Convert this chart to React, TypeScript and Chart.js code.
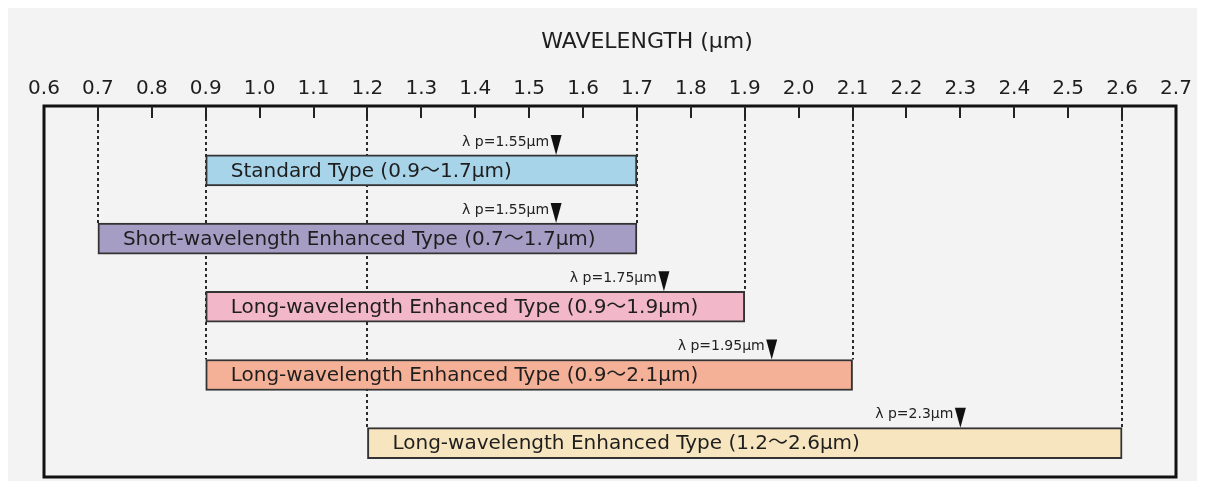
import React, { useEffect, useRef } from "react";
import { Chart, registerables } from "chart.js";

Chart.register(...registerables);

const TYPE_LABELS = [
  "Standard Type (0.9〜1.7μm)",
  "Short-wavelength Enhanced Type (0.7〜1.7μm)",
  "Long-wavelength Enhanced Type (0.9〜1.9μm)",
  "Long-wavelength Enhanced Type (0.9〜2.1μm)",
  "Long-wavelength Enhanced Type (1.2〜2.6μm)",
];
const RANGE_START = [0.9, 0.7, 0.9, 0.9, 1.2];
const RANGE_END = [1.7, 1.7, 1.9, 2.1, 2.6];
const PEAK = [1.55, 1.55, 1.75, 1.95, 2.3];
const PEAK_LABELS = ["λ p=1.55μm", "λ p=1.55μm", "λ p=1.75μm", "λ p=1.95μm", "λ p=2.3μm"];
const BAR_COLORS = ["#a8d4ea", "#a69dc4", "#f2b7c9", "#f5b197", "#f6e5bf"];
const X_TICKS = [
  0.6, 0.7, 0.8, 0.9, 1.0, 1.1, 1.2, 1.3, 1.4, 1.5, 1.6, 1.7, 1.8, 1.9, 2.0,
  2.1, 2.2, 2.3, 2.4, 2.5, 2.6, 2.7,
];
const AXIS_TITLE = "WAVELENGTH (μm)";

const FONT = "'DejaVu Sans', 'Noto Sans CJK JP', sans-serif";
const BAR_THICKNESS = 31;

const overlayPlugin = {
  id: "overlay",
  beforeDatasetsDraw(chart: any) {
    const { ctx, chartArea } = chart;
    const xs = chart.scales.x;
    const ys = chart.scales.y;
    // dotted guide lines from the top axis down to the lowest bar having that edge
    const lowest = new Map<number, number>();
    RANGE_START.forEach((s, i) => {
      [s, RANGE_END[i]].forEach((v) => {
        const k = Math.round(v * 10);
        lowest.set(k, Math.max(lowest.get(k) ?? -1, i));
      });
    });
    ctx.save();
    ctx.strokeStyle = "#2a2a2a";
    ctx.lineWidth = 2;
    ctx.setLineDash([3, 3]);
    lowest.forEach((i, k) => {
      const x = Math.round(xs.getPixelForValue(k / 10));
      const yb = ys.getPixelForValue(i) - BAR_THICKNESS / 2;
      ctx.beginPath();
      ctx.moveTo(x, chartArea.top + 12);
      ctx.lineTo(x, yb);
      ctx.stroke();
    });
    ctx.restore();
  },
  afterDatasetsDraw(chart: any) {
    const { ctx, chartArea } = chart;
    const xs = chart.scales.x;
    const ys = chart.scales.y;
    ctx.save();
    // bar labels
    ctx.fillStyle = "#1e1e1e";
    ctx.font = `20px ${FONT}`;
    ctx.textBaseline = "middle";
    ctx.textAlign = "left";
    TYPE_LABELS.forEach((t, i) => {
      const x = xs.getPixelForValue(RANGE_START[i]) + 25;
      const y = ys.getPixelForValue(i) + 1;
      ctx.fillText(t, x, y);
    });
    // peak markers
    PEAK.forEach((p, i) => {
      const x = xs.getPixelForValue(p);
      const top = ys.getPixelForValue(i) - BAR_THICKNESS / 2;
      ctx.fillStyle = "#111";
      ctx.beginPath();
      ctx.moveTo(x - 5.5, top - 20);
      ctx.lineTo(x + 5.5, top - 20);
      ctx.lineTo(x, top);
      ctx.closePath();
      ctx.fill();
      ctx.font = `14px ${FONT}`;
      ctx.textAlign = "right";
      ctx.textBaseline = "middle";
      ctx.fillStyle = "#222";
      ctx.fillText(PEAK_LABELS[i], x - 7, top - 13);
    });
    // frame
    ctx.strokeStyle = "#111";
    ctx.lineWidth = 3;
    ctx.setLineDash([]);
    ctx.strokeRect(chartArea.left, chartArea.top, chartArea.right - chartArea.left, chartArea.bottom - chartArea.top);
    // inward tick marks
    ctx.lineWidth = 2;
    ctx.strokeStyle = "#222";
    xs.ticks.forEach((t: any) => {
      const x = Math.round(xs.getPixelForValue(t.value));
      if (x <= chartArea.left + 2 || x >= chartArea.right - 2) return;
      ctx.beginPath();
      ctx.moveTo(x, chartArea.top);
      ctx.lineTo(x, chartArea.top + 12);
      ctx.stroke();
    });
    // axis title
    ctx.fillStyle = "#1e1e1e";
    ctx.font = `22px ${FONT}`;
    ctx.textAlign = "center";
    ctx.textBaseline = "middle";
    ctx.fillText(AXIS_TITLE, (chartArea.left + chartArea.right) / 2 + 37, 34);
    ctx.restore();
  },
};

export default function App() {
  const ref = useRef<HTMLCanvasElement | null>(null);
  useEffect(() => {
    if (!ref.current) return;
    const chart = new Chart(ref.current, {
      type: "bar",
      data: {
        datasets: [
          {
            data: RANGE_START.map((s, i) => ({ x: [s, RANGE_END[i]], y: i })) as any,
            backgroundColor: BAR_COLORS,
            borderColor: "#333",
            borderWidth: 2,
            borderSkipped: false,
            barThickness: BAR_THICKNESS,
          },
        ],
      },
      options: {
        indexAxis: "y",
        animation: false,
        responsive: true,
        maintainAspectRatio: false,
        layout: { padding: { left: 36, right: 24, top: 0, bottom: 4 } },
        plugins: { legend: { display: false }, tooltip: { enabled: false }, title: { display: false } },
        scales: {
          x: {
            type: "linear",
            position: "top",
            min: 0.6,
            max: 2.7,
            afterBuildTicks: (scale: any) => {
              scale.ticks = X_TICKS.map((v) => ({ value: v }));
            },
            afterFit: (scale: any) => {
              scale.height = 98;
            },
            ticks: {
              autoSkip: false,
              maxRotation: 0,
              padding: 5,
              color: "#1e1e1e",
              font: { family: FONT, size: 20 },
              callback: (v: any) => Number(v).toFixed(1),
            },
            grid: { display: false, drawTicks: false },
            border: { display: false },
          },
          y: {
            type: "linear",
            reverse: true,
            offset: false,
            min: -0.944,
            max: 4.496,
            display: false,
            grid: { display: false },
          },
        },
      },
      plugins: [overlayPlugin],
    });
    return () => chart.destroy();
  }, []);
  return (
    <div style={{ width: 1192, height: 473, background: "#f3f3f3", position: "relative" }}>
      <canvas ref={ref} />
    </div>
  );
}
